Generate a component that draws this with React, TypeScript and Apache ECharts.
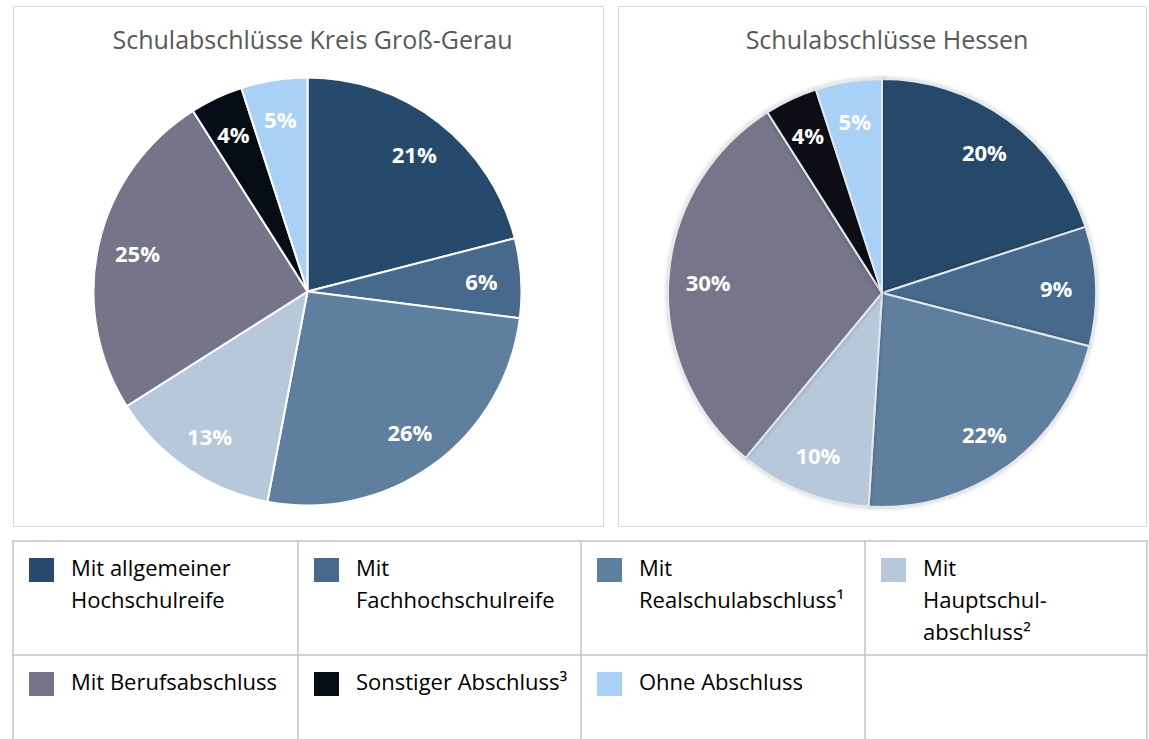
import React, { useEffect, useRef } from "react";
import * as echarts from "echarts";

const categories = [
  "Mit allgemeiner Hochschulreife",
  "Mit Fachhochschulreife",
  "Mit Realschulabschluss¹",
  "Mit Hauptschulabschluss²",
  "Mit Berufsabschluss",
  "Sonstiger Abschluss³",
  "Ohne Abschluss",
];
const legendLabels = [
  "Mit allgemeiner\nHochschulreife",
  "Mit\nFachhochschulreife",
  "Mit\nRealschulabschluss¹",
  "Mit\nHauptschul-\nabschluss²",
  "Mit Berufsabschluss",
  "Sonstiger Abschluss³",
  "Ohne Abschluss",
];
const colors = ["#254a6b", "#47698b", "#5f7f9e", "#b6c8d9", "#767489", "#070d17", "#a9d1f5"];
const valuesGrossGerau = [21, 6, 26, 13, 25, 4, 5];
const valuesHessen = [20, 9, 22, 10, 30, 4, 5];
const titles = ["Schulabschlüsse Kreis Groß-Gerau", "Schulabschlüsse Hessen"];

const FONT = "'Open Sans', 'Noto Sans', sans-serif";

export default function App() {
  const ref = useRef<HTMLDivElement>(null);
  useEffect(() => {
    if (!ref.current) return;
    const chart = echarts.init(ref.current, null, { renderer: "svg" });

    const pieCenters = [
      [307.5, 291.5],
      [882, 293],
    ];
    const R = 214;
    const datasets = [valuesGrossGerau, valuesHessen];

    const series: any[] = [];
    datasets.forEach((vals, i) => {
      const data = vals.map((v, k) => ({
        name: categories[k],
        value: v,
        itemStyle: { color: colors[k] },
      }));
      series.push({
        type: "pie",
        center: pieCenters[i],
        radius: [0, R],
        startAngle: 90,
        clockwise: true,
        silent: true,
        label: { show: false },
        labelLine: { show: false },
        itemStyle:
          i === 0
            ? { borderColor: "#ffffff", borderWidth: 2 }
            : {
                borderColor: "#e2e7ed",
                borderWidth: 2,
                shadowBlur: 4,
                shadowColor: "rgba(0,0,0,0.25)",
              },
        data,
      });
      // transparent overlay ring for label placement at ~0.8 R
      series.push({
        type: "pie",
        center: pieCenters[i],
        radius: [R * 0.6, R],
        startAngle: 90,
        clockwise: true,
        silent: true,
        z: 5,
        itemStyle: { color: "rgba(0,0,0,0)", borderWidth: 0 },
        label: {
          show: true,
          position: "inner",
          formatter: "{c}%",
          color: "#ffffff",
          fontFamily: FONT,
          fontWeight: "bold",
          fontSize: 22,
        },
        labelLine: { show: false },
        data: vals.map((v, k) => ({ name: categories[k], value: v })),
      });
    });

    const graphic: any[] = [];
    // chart boxes
    graphic.push({
      type: "rect",
      shape: { x: 13.5, y: 6.5, width: 590, height: 520 },
      style: { fill: "none", stroke: "#d9d9d9", lineWidth: 1 },
      z: -1,
    });
    graphic.push({
      type: "rect",
      shape: { x: 618.5, y: 6.5, width: 528, height: 520 },
      style: { fill: "none", stroke: "#d9d9d9", lineWidth: 1 },
      z: -1,
    });
    // legend table
    const colX = [13, 298, 581, 865];
    const rowY = [541, 655];
    const tableStroke = { stroke: "#c4c4c4", lineWidth: 1.5 };
    graphic.push({
      type: "rect",
      shape: { x: 13, y: 541, width: 1134, height: 230 },
      style: { fill: "none", ...tableStroke },
    });
    graphic.push({ type: "line", shape: { x1: 13, y1: 655, x2: 1147, y2: 655 }, style: tableStroke });
    [298, 581, 865].forEach((x) =>
      graphic.push({ type: "line", shape: { x1: x, y1: 541, x2: x, y2: 760 }, style: tableStroke })
    );
    legendLabels.forEach((lbl, k) => {
      const row = Math.floor(k / 4);
      const col = k % 4;
      const x0 = colX[col];
      const y0 = rowY[row];
      graphic.push({
        type: "rect",
        shape: { x: x0 + 16, y: y0 + 17, width: 25, height: 24 },
        style: { fill: colors[k] },
      });
      graphic.push({
        type: "text",
        x: x0 + 58,
        y: y0 + 10,
        style: {
          text: lbl,
          fill: "#000000",
          font: `22px ${FONT}`,
          lineHeight: 32,
          textVerticalAlign: "top",
        },
      });
    });

    chart.setOption({
      animation: false,
      backgroundColor: "#ffffff",
      title: titles.map((t, i) => ({
        text: t,
        left: pieCenters[i][0],
        top: 21,
        textAlign: "center",
        textStyle: { color: "#595959", fontFamily: FONT, fontWeight: "normal", fontSize: 25 },
      })),
      series,
      graphic,
    });
    return () => chart.dispose();
  }, []);
  return (
    <div
      ref={ref}
      style={{ position: "fixed", left: 0, top: 0, width: 1149, height: 739, background: "#fff" }}
    />
  );
}
